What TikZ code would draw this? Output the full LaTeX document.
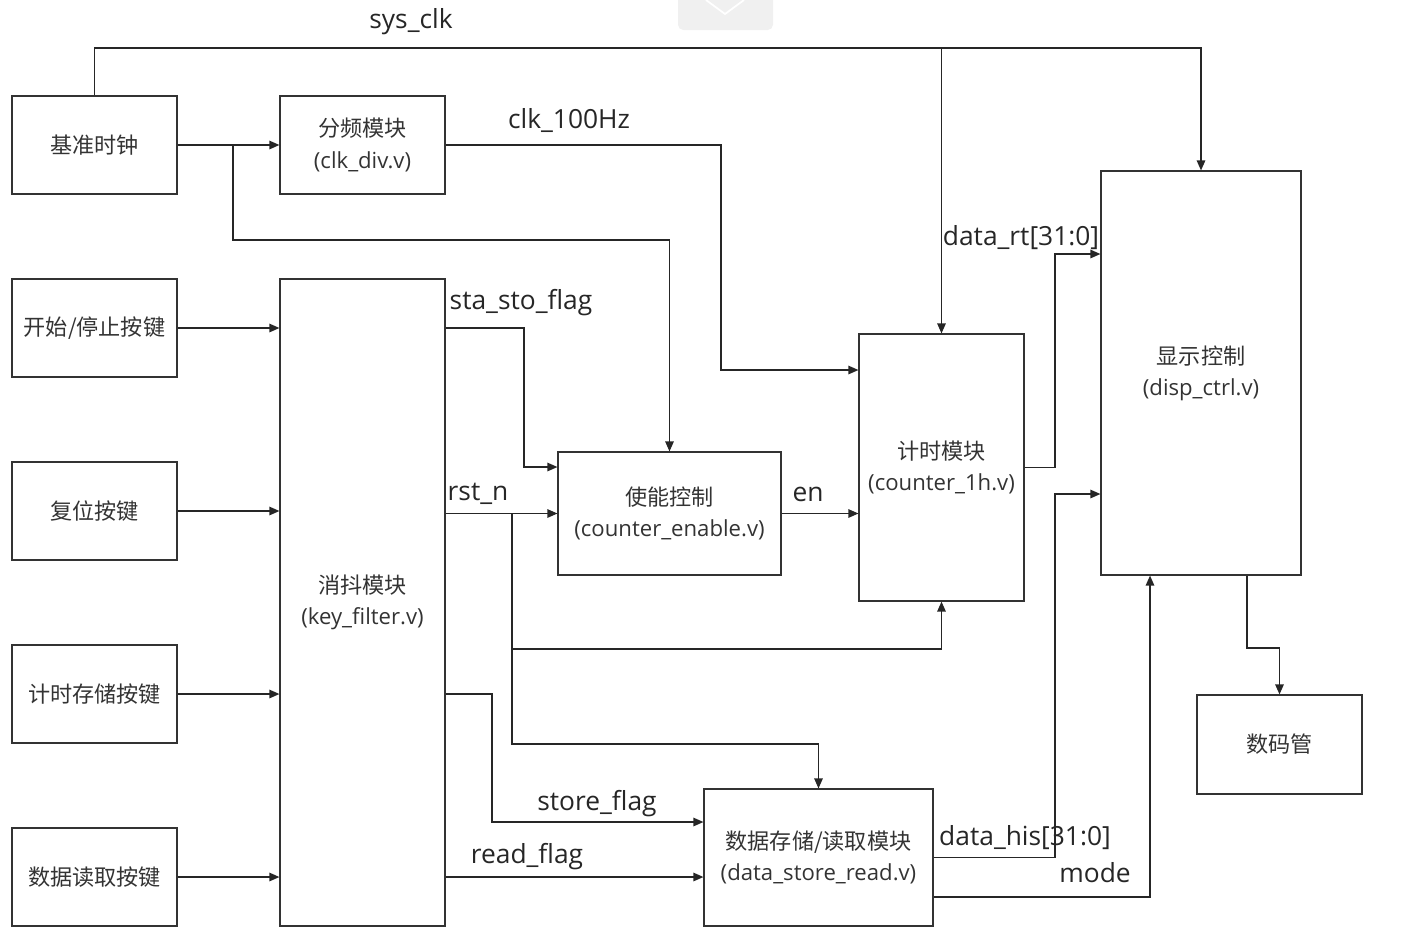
\documentclass[tikz,border=0pt]{standalone}
\usepackage{fontspec}
\setmainfont{Open Sans}
\newfontfamily\cjk{Noto Sans CJK SC}
\usetikzlibrary{arrows.meta}

\begin{document}
\begin{tikzpicture}[x=0.02cm,y=-0.02cm,
    blk/.style={draw=black!80,line width=0.7pt,align=center,inner sep=0pt,
      text=black!80,font=\fontsize{12.6}{17.8}\selectfont},
    sig/.style={draw=black!85,line width=0.75pt,-{Triangle[length=2mm,width=1.7mm]}},
    lbl/.style={inner sep=0pt,text=black!85,font=\fontsize{15}{17}\selectfont}]
    \useasboundingbox (0,0) rectangle (1405,937);
    % grey tab at the top
    \fill [black!6,rounded corners=3pt] (678,-6) rectangle (773,30);
    \draw [white,line width=1pt] (706,0) -- (725,14) -- (744,0);
    % blocks
    \node [blk,minimum width=3.3cm,minimum height=1.96cm] (clk) at (94.5,145) {\cjk 基准时钟};
    \node [blk,minimum width=3.3cm,minimum height=1.96cm] (div) at (362.5,145) {\cjk 分频模块\\(clk\_div.v)};
    \node [blk,minimum width=3.3cm,minimum height=1.96cm] (keyss) at (94.5,328) {\cjk 开始/停止按键};
    \node [blk,minimum width=3.3cm,minimum height=1.96cm] (keyrst) at (94.5,511) {\cjk 复位按键};
    \node [blk,minimum width=3.3cm,minimum height=1.96cm] (keysto) at (94.5,694) {\cjk 计时存储按键};
    \node [blk,minimum width=3.3cm,minimum height=1.96cm] (keyrd) at (94.5,877) {\cjk 数据读取按键};
    \node [blk,minimum width=3.3cm,minimum height=12.94cm] (filter) at (362.5,602.5) {\cjk 消抖模块\\(key\_filter.v)};
    \node [blk,minimum width=4.46cm,minimum height=2.46cm] (ena) at (669.5,513.5) {\cjk 使能控制\\(counter\_enable.v)};
    \node [blk,minimum width=3.3cm,minimum height=5.34cm] (timer) at (941.5,467.5) {\cjk 计时模块\\(counter\_1h.v)};
    \node [blk,minimum width=4cm,minimum height=8.08cm] (disp) at (1201,373) {\cjk 显示控制\\(disp\_ctrl.v)};
    \node [blk,minimum width=3.3cm,minimum height=1.98cm] (seg) at (1279.5,744.5) {\cjk 数码管};
    \node [blk,minimum width=4.58cm,minimum height=2.74cm] (store) at (818.5,857.5) {{\cjk 数据存储/读取模块}\\(data\_store\_read.v)};
    % bend points
    \coordinate (bus) at (0,48);
    \coordinate (ck1) at (233,240);
    \coordinate (c100) at (721,370);
    \coordinate (ss) at (524,467);
    \coordinate (rb) at (512,649);
    \coordinate (rs) at (512,744);
    \coordinate (sf) at (492,822);
    \coordinate (dr) at (1055,254);
    \coordinate (dh) at (1055,494);
    \coordinate (md) at (1150,897);
    \coordinate (sg) at (1247,648);
    % clocks
    \draw [sig] (clk.north) -- (clk.north |- bus) -| (disp.north);
    \draw [sig] (timer.north |- bus) -- (timer.north);
    \draw [sig] (clk.east) -- (div.west);
    \draw [sig] (ck1 |- clk.east) -- (ck1) -| (ena.north);
    \draw [sig] (div.east) -| (c100) -- (c100 -| timer.west);
    % keys into the filter
    \draw [sig] (keyss.east) -- (keyss.east -| filter.west);
    \draw [sig] (keyrst.east) -- (keyrst.east -| filter.west);
    \draw [sig] (keysto.east) -- (keysto.east -| filter.west);
    \draw [sig] (keyrd.east) -- (keyrd.east -| filter.west);
    % filter outputs
    \draw [sig] (keyss.east -| filter.east) -| (ss) -- (ss -| ena.west);
    \draw [sig] (ena.west -| filter.east) -- (ena.west);
    \draw [sig] (rb |- ena.west) -- (rb) -| (timer.south);
    \draw [sig] (rb) -- (rs) -| (store.north);
    \draw [sig] (keysto.east -| filter.east) -| (sf) -- (sf -| store.west);
    \draw [sig] (keyrd.east -| filter.east) -- (keyrd.east -| store.west);
    \draw [sig] (ena.east) -- (ena.east -| timer.west);
    % data to the display
    \draw [sig] (timer.east) -| (dr) -- (dr -| disp.west);
    \draw [sig] (store.east) -| (dh) -- (dh -| disp.west);
    \draw [sig] (store.east |- md) -- (md) -- (md |- disp.south);
    \draw [sig] (sg |- disp.south) -- (sg) -| (seg.north);
    % signal names
    \node [lbl] (tsys) at (411,22) {sys\_clk};
    \node [lbl] (t100) at (569,121) {clk\_100Hz};
    \node [lbl] (tss) at (521,303) {sta\_sto\_flag};
    \node [lbl] (trst) at (478,494) {rst\_n};
    \node [lbl] (ten) at (808,494) {en};
    \node [lbl] (tsf) at (597,804) {store\_flag};
    \node [lbl] (trf) at (527,857) {read\_flag};
    \node [lbl] (tdr) at (1021,238) {data\_rt[31:0]};
    \node [lbl] (tdh) at (1025,838) {data\_his[31:0]};
    \node [lbl] (tmd) at (1095,873) {mode};
\end{tikzpicture}
\end{document}
